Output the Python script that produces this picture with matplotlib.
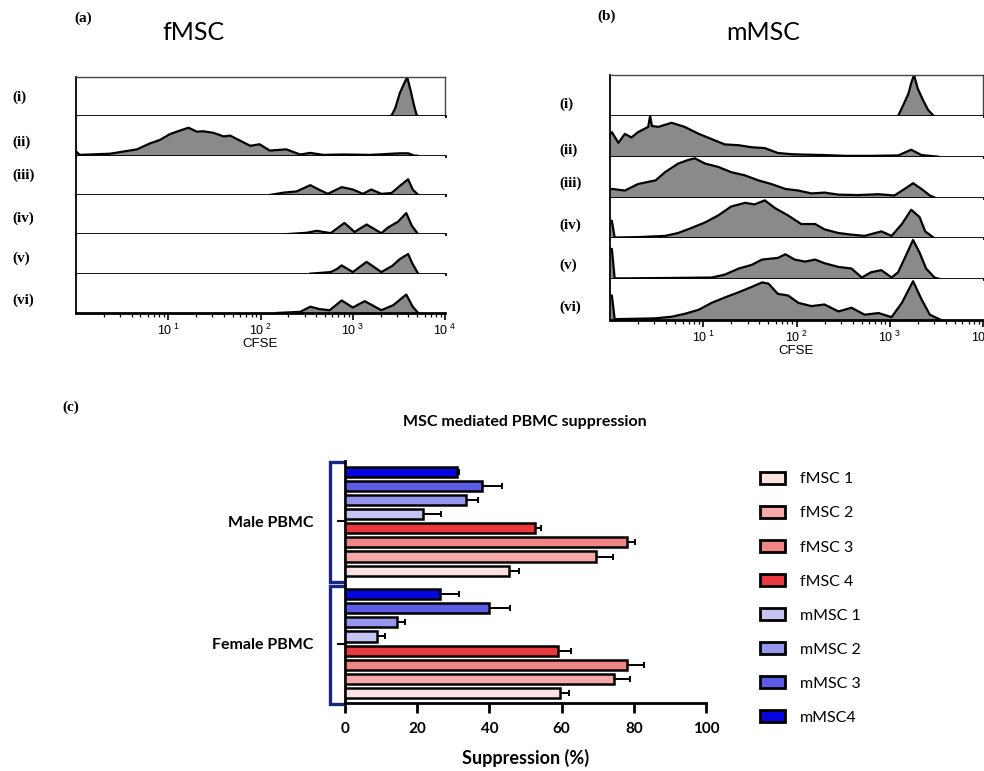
import numpy as np
import matplotlib
matplotlib.use("Agg")
import matplotlib.pyplot as plt
from matplotlib.patches import Patch
from matplotlib.ticker import LogLocator, FixedLocator, NullFormatter
import matplotlib.transforms as mtransforms

# =============================================================================
# DATOS
# =============================================================================
row_labels = ["(i)", "(ii)", "(iii)", "(iv)", "(v)", "(vi)"]

# histogramas CFSE: posicion log10(CFSE) y altura relativa de cada fila
fmsc_x = [
    [3.38, 3.42, 3.46, 3.51, 3.55, 3.59, 3.63, 3.66, 3.69, 3.71],
    [0.0, 0.01, 0.04, 0.37, 0.66, 0.80, 0.91, 1.02, 1.13, 1.22, 1.31, 1.38, 1.49, 1.60,
     1.67, 1.78, 1.89, 1.99, 2.10, 2.28, 2.43, 2.54, 2.68, 2.90, 3.19, 3.51, 3.60, 3.67, 3.70],
    [2.10, 2.25, 2.39, 2.54, 2.63, 2.73, 2.88, 3.00, 3.11, 3.20, 3.31, 3.42, 3.51, 3.60, 3.65, 3.71],
    [2.25, 2.50, 2.61, 2.76, 2.83, 2.91, 3.02, 3.15, 3.31, 3.38, 3.49, 3.58, 3.64, 3.71],
    [2.54, 2.76, 2.83, 2.88, 3.00, 3.15, 3.31, 3.43, 3.51, 3.60, 3.65, 3.71],
    [2.17, 2.43, 2.54, 2.64, 2.75, 2.88, 3.00, 3.13, 3.31, 3.44, 3.58, 3.65, 3.71],
]
fmsc_y = [
    [0, 0.02, 0.20, 0.59, 0.80, 1.0, 0.63, 0.32, 0.05, 0],
    [0.09, 0.09, 0.02, 0.05, 0.16, 0.31, 0.40, 0.55, 0.64, 0.71, 0.61, 0.62, 0.58, 0.49,
     0.51, 0.38, 0.25, 0.29, 0.13, 0.16, 0.03, 0.07, 0.02, 0.03, 0.02, 0.06, 0.06, 0.0, 0.0],
    [0, 0.06, 0.09, 0.25, 0.14, 0.03, 0.20, 0.14, 0.03, 0.14, 0.03, 0.05, 0.23, 0.40, 0.14, 0],
    [0.0, 0.04, 0.09, 0.03, 0.15, 0.29, 0.06, 0.25, 0.03, 0.17, 0.32, 0.54, 0.22, 0],
    [0, 0.04, 0.12, 0.21, 0.04, 0.30, 0.04, 0.20, 0.37, 0.50, 0.24, 0],
    [0, 0.03, 0.16, 0.10, 0.07, 0.32, 0.14, 0.30, 0.07, 0.20, 0.47, 0.16, 0],
]

mmsc_x = [
    [3.09, 3.14, 3.20, 3.23, 3.26, 3.30, 3.36, 3.41, 3.47],
    [0.0, 0.02, 0.09, 0.16, 0.23, 0.30, 0.41, 0.43, 0.45, 0.52, 0.66, 0.80, 0.95, 1.09,
     1.23, 1.38, 1.52, 1.66, 1.80, 1.95, 2.09, 2.30, 2.52, 2.80, 3.09, 3.23, 3.34, 3.52],
    [0.0, 0.02, 0.16, 0.30, 0.49, 0.59, 0.73, 0.84, 0.91, 1.02, 1.16, 1.30, 1.45, 1.59,
     1.73, 1.88, 2.02, 2.16, 2.30, 2.45, 2.66, 2.88, 3.05, 3.16, 3.25, 3.34, 3.43, 3.48],
    [0.0, 0.02, 0.05, 0.30, 0.59, 0.73, 0.88, 1.02, 1.16, 1.30, 1.45, 1.55, 1.66, 1.77,
     1.91, 2.05, 2.20, 2.30, 2.45, 2.59, 2.73, 2.91, 3.02, 3.13, 3.23, 3.32, 3.38, 3.48],
    [0.0, 0.02, 0.05, 0.16, 0.66, 1.09, 1.23, 1.38, 1.52, 1.63, 1.80, 1.88, 1.98, 2.09,
     2.20, 2.30, 2.45, 2.59, 2.70, 2.80, 2.91, 3.02, 3.09, 3.18, 3.25, 3.32, 3.39, 3.48, 3.54],
    [0.0, 0.02, 0.05, 0.48, 0.66, 0.80, 0.95, 1.09, 1.23, 1.38, 1.52, 1.63, 1.70, 1.80,
     1.91, 2.02, 2.16, 2.30, 2.45, 2.59, 2.73, 2.88, 3.02, 3.13, 3.25, 3.34, 3.43, 3.55],
]
mmsc_y = [
    [0, 0.24, 0.54, 0.80, 1.0, 0.67, 0.37, 0.15, 0],
    [0.55, 0.60, 0.34, 0.56, 0.47, 0.60, 0.73, 1.0, 0.75, 0.73, 0.83, 0.73, 0.56, 0.43,
     0.30, 0.28, 0.23, 0.21, 0.09, 0.06, 0.05, 0.04, 0.02, 0.02, 0.03, 0.17, 0.04, 0],
    [0.20, 0.21, 0.17, 0.33, 0.42, 0.62, 0.83, 0.92, 0.96, 0.83, 0.75, 0.62, 0.54, 0.42,
     0.33, 0.21, 0.17, 0.10, 0.12, 0.07, 0.06, 0.08, 0.05, 0.21, 0.35, 0.21, 0.05, 0],
    [0.43, 0.43, 0.02, 0.03, 0.06, 0.13, 0.26, 0.39, 0.56, 0.78, 0.87, 0.83, 0.93, 0.74,
     0.56, 0.35, 0.35, 0.22, 0.13, 0.09, 0.06, 0.17, 0.06, 0.35, 0.70, 0.52, 0.17, 0],
    [0.74, 0.74, 0.02, 0.02, 0.03, 0.04, 0.11, 0.26, 0.35, 0.48, 0.52, 0.61, 0.48, 0.43,
     0.48, 0.39, 0.30, 0.26, 0.04, 0.17, 0.22, 0.04, 0.17, 0.61, 0.96, 0.65, 0.26, 0.04, 0],
    [0.60, 0.60, 0.02, 0.04, 0.08, 0.15, 0.25, 0.42, 0.55, 0.68, 0.81, 0.92, 0.89, 0.64,
     0.60, 0.42, 0.34, 0.38, 0.21, 0.30, 0.13, 0.17, 0.07, 0.42, 0.95, 0.51, 0.13, 0],
]

# barras: supresion (%) y error (solo lado positivo)
series = ["fMSC 1", "fMSC 2", "fMSC 3", "fMSC 4", "mMSC 1", "mMSC 2", "mMSC 3", "mMSC4"]
groups = ["Female PBMC", "Male PBMC"]
male_mean = [45.5, 69.6, 78.0, 52.6, 21.6, 33.5, 38.0, 31.0]
male_err = [2.8, 4.7, 2.4, 1.8, 5.0, 3.3, 5.5, 0.6]
female_mean = [59.5, 74.5, 78.0, 59.0, 9.0, 14.4, 39.8, 26.4]
female_err = [2.5, 4.5, 4.9, 3.7, 2.1, 2.1, 5.8, 5.1]
colors = ["#fde2e2", "#f5a9a9", "#f08585", "#e83a3e",
          "#c5c5f3", "#9696ee", "#5c5ce4", "#0606df"]

W, H = 984, 771
fig = plt.figure(figsize=(W / 100, H / 100), dpi=100)

def fx(px):
    return px / W

def fy(py):
    return 1 - py / H

SERIF = ["Liberation Serif", "DejaVu Serif"]
SANS = ["Lato", "DejaVu Sans"]
ARIAL = ["Liberation Sans", "DejaVu Sans"]

# =============================================================================
# PANELES DE HISTOGRAMAS
# =============================================================================
def histo_panel(left, right, top, bottom, xs, ys, label_x, label_ys):
    n = len(xs)
    h = (bottom - top) / n
    for k in range(n):
        ax = fig.add_axes([fx(left), fy(top + (k + 1) * h), fx(right - left), h / H])
        xv = 10 ** np.array(xs[k])
        ax.fill_between(xv, 0, ys[k], color="#8a8a8a", lw=0)
        ax.plot(xv, ys[k], color="black", lw=1.6)
        ax.set_xscale("log")
        ax.set_xlim(1, 1e4)
        ax.set_ylim(0, 1.0)
        ax.set_yticks([])
        for s in ["top", "right"]:
            ax.spines[s].set_visible(k == 0)
            ax.spines[s].set_linewidth(1.0)
            ax.spines[s].set_color("#444444")
        ax.spines["bottom"].set_linewidth(2.0)
        ax.spines["left"].set_linewidth(1.3)
        if k < n - 1:
            ax.set_xticks([])
            ax.xaxis.set_minor_locator(FixedLocator([]))
        else:
            ax.xaxis.set_major_locator(FixedLocator([10, 100, 1000, 10000]))
            ax.set_xticklabels([r"$\mathregular{10^{\ %d}}$" % d for d in range(1, 5)],
                               family=ARIAL, fontsize=9)
            ax.xaxis.set_minor_locator(LogLocator(base=10, subs=np.arange(2, 10), numticks=20))
            ax.xaxis.set_minor_formatter(NullFormatter())
            ax.tick_params(axis="x", which="major", length=5, width=1.2, pad=2)
            ax.tick_params(axis="x", which="minor", length=3, width=0.9)
            ax.set_xlabel("CFSE", family=ARIAL, fontsize=9.5, labelpad=0)
        fig.text(fx(label_x), fy(label_ys[k]), row_labels[k], family=SERIF,
                 fontweight="bold", fontsize=11, va="center", ha="left")

histo_panel(76, 445, 77, 313, fmsc_x, fmsc_y, 12, [97, 142, 175, 218, 258, 300])
histo_panel(610, 983, 75, 320, mmsc_x, mmsc_y, 559, [104, 150, 183, 225, 265, 307])

fig.text(fx(74), fy(18), "(a)", family=SERIF, fontweight="bold", fontsize=11, va="center")
fig.text(fx(597), fy(16), "(b)", family=SERIF, fontweight="bold", fontsize=11, va="center")
fig.text(fx(193), fy(33), "fMSC", family=SANS, fontsize=18, ha="center", va="center")
fig.text(fx(763), fy(32), "mMSC", family=SANS, fontsize=18, ha="center", va="center")

# =============================================================================
# GRAFICO DE BARRAS
# =============================================================================
bx = fig.add_axes([fx(345), fy(703), fx(706 - 345), (703 - 461) / H])
nser = len(series)
group_base = [0.0, 8.65]
means = [female_mean, male_mean]
errs = [female_err, male_err]
for g in range(2):
    pos = group_base[g] + np.arange(nser)
    bx.barh(pos, means[g], height=0.72, color=colors, edgecolor="black", lw=1.8, zorder=3)
    bx.errorbar(means[g], pos, xerr=[np.zeros(nser), errs[g]], fmt="none",
                ecolor="black", elinewidth=1.4, capsize=2.5, capthick=1.4, zorder=2)

bx.set_xlim(0, 100)
bx.set_ylim(-0.7, 16.4)
bx.spines["top"].set_visible(False)
bx.spines["right"].set_visible(False)
bx.spines["left"].set_linewidth(2)
bx.spines["bottom"].set_linewidth(2)
bx.set_xticks(np.arange(0, 101, 20))
bx.tick_params(axis="x", length=7, width=2, pad=7)
for t in bx.get_xticklabels():
    t.set_family(SANS)
    t.set_fontweight("bold")
    t.set_fontsize(11)
centers = [b + (nser - 1) / 2 for b in group_base]
bx.set_yticks(centers)
bx.set_yticklabels(groups, family=SANS, fontweight="bold", fontsize=11.5)
bx.tick_params(axis="y", length=6, width=1.5, pad=17)
bx.set_xlabel("Suppression (%)", family=SANS, fontweight="bold", fontsize=13, labelpad=9)

# corchetes de grupo
tr = mtransforms.blended_transform_factory(bx.transAxes, bx.transData)
x0, x1 = -0.042, -0.006
for b, lo, hi in [(group_base[1], -0.78, 0.69), (group_base[0], -0.75, 0.6)]:
    y_lo = b + lo
    y_hi = b + nser - 1 + hi
    bx.plot([x1, x0, x0, x1], [y_lo, y_lo, y_hi, y_hi], transform=tr,
            color="#1b2580", lw=2.4, clip_on=False, solid_joinstyle="miter")

fig.text(fx(525), fy(422), "MSC mediated PBMC suppression", family=SANS,
         fontweight="bold", fontsize=11.5, ha="center", va="center")
fig.text(fx(62), fy(407), "(c)", family=SERIF, fontweight="bold", fontsize=11, va="center")

handles = [Patch(facecolor=c, edgecolor="black", lw=2) for c in colors]
fig.legend(handles, series, loc="upper left", bbox_to_anchor=(fx(760), fy(472)),
           frameon=False, prop={"family": SANS, "size": 11.5}, handlelength=1.55,
           handleheight=0.75, handletextpad=0.95, labelspacing=1.23, borderpad=0, borderaxespad=0)

fig.savefig("out.png", dpi=100)
